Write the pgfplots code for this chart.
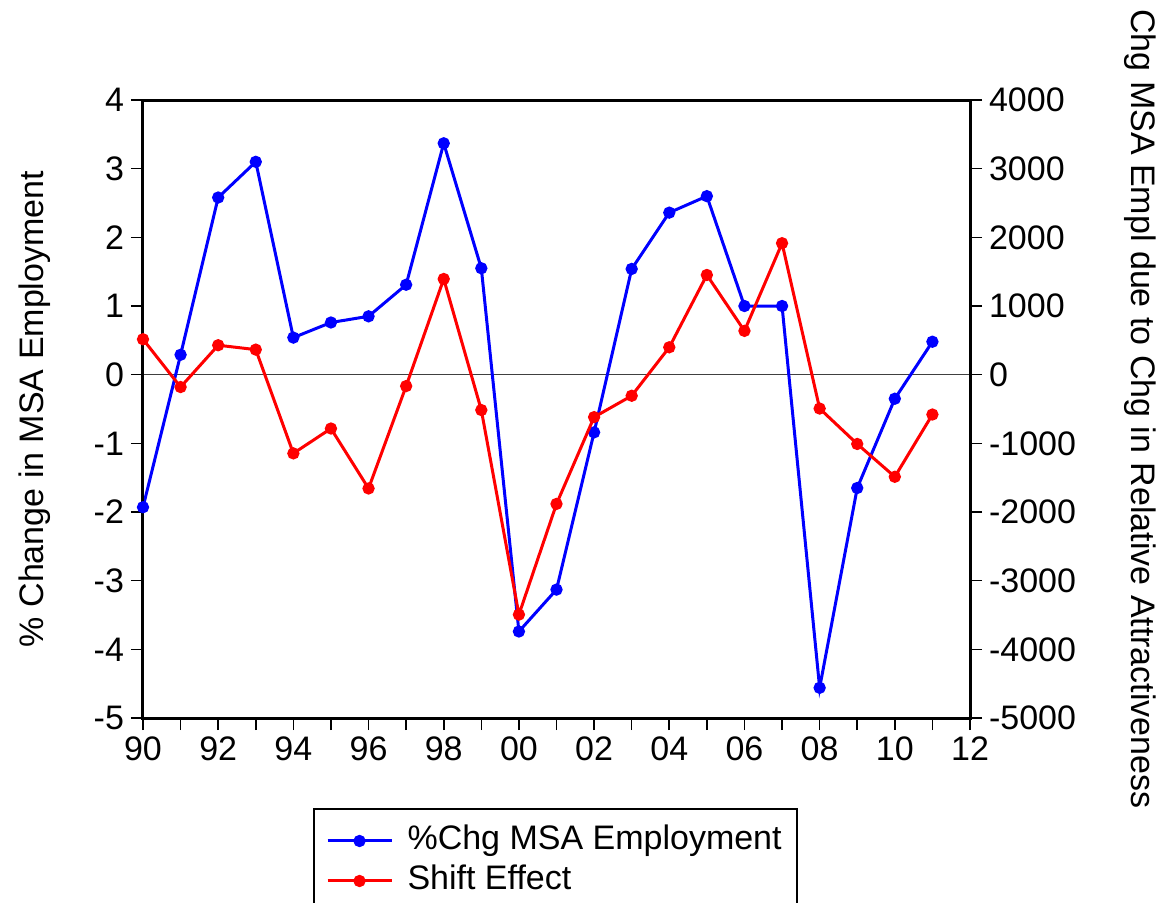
\documentclass[border=0pt]{standalone}
\usepackage{fontspec}
\setmainfont{Liberation Sans}
\usepackage{pgfplots}
\pgfplotsset{compat=1.18}
\begin{document}
\begin{tikzpicture}
\pgfplotsset{
  common/.style={
    at={(0,0)}, anchor=south west,
    scale only axis, width=413.5pt, height=309pt,
    xmin=1990, xmax=2012,
    font=\fontsize{17}{20}\selectfont,
    tick label style={font=\fontsize{17}{20}\selectfont},
    /pgf/number format/assume math mode=true,
    /pgf/number format/1000 sep={},
    scaled y ticks=false,
    clip=false,
    axis line style={line width=1.5pt},
    major tick length=6pt, minor tick length=6pt,
    every tick/.style={black, line width=0.8pt},
    tick align=outside,
  }
}
\begin{axis}[common,
  ymin=-5, ymax=4, ytick={-5,-4,...,4},
  xtick={1990,1992,...,2012},
  xticklabels={90,92,94,96,98,00,02,04,06,08,10,12},
  minor xtick={1991,1993,...,2011},
  tick pos=left,
  ylabel={\% Change in MSA Employment},
  every axis y label/.style={at={(axis description cs:-0.1306,0.5)}, anchor=center, rotate=90},
]
\addplot[black!75, line width=0.7pt, forget plot] coordinates {(1990,0) (2012,0)};
\addplot[blue, line width=1.5pt, mark=*, mark size=2.3pt] coordinates {
(1990,-1.93) (1991,0.29) (1992,2.58) (1993,3.10) (1994,0.54) (1995,0.76)
(1996,0.85) (1997,1.31) (1998,3.37) (1999,1.55) (2000,-3.74) (2001,-3.13)
(2002,-0.84) (2003,1.54) (2004,2.36) (2005,2.60) (2006,1.00) (2007,1.00)
(2008,-4.56) (2009,-1.65) (2010,-0.35) (2011,0.48)
};
\draw[black, line width=1.5pt] (rel axis cs:0,0) rectangle (rel axis cs:1,1);
\end{axis}
\begin{axis}[common,
  ymin=-5000, ymax=4000, ytick={-5000,-4000,...,4000},
  axis x line=none, axis y line*=right,
  ylabel={Chg MSA Empl due to Chg in Relative Attractiveness},
  every axis y label/.style={at={(axis description cs:1.2056,0.5)}, anchor=center, rotate=-90},
  legend style={at={(axis description cs:0.2056,-0.1456)}, anchor=north west,
    draw=black, line width=1pt, inner xsep=6pt, inner ysep=6pt,
    cells={anchor=west},
    nodes={text height=12.5pt, text depth=4pt, inner sep=1.75pt, font=\fontsize{17}{20}\selectfont},
    /tikz/every odd column/.append style={column sep=5.5pt}},
  legend image code/.code={\draw[mark repeat=2, mark phase=2, #1] plot coordinates {(0pt,0pt) (16pt,0pt) (32pt,0pt)};},
]
\addlegendimage{blue, line width=1.5pt, mark=*, mark size=2.3pt}
\addlegendentry{\%Chg MSA Employment}
\addplot[red, line width=1.5pt, mark=*, mark size=2.3pt] coordinates {
(1990,516) (1991,-180) (1992,429) (1993,365) (1994,-1146) (1995,-784)
(1996,-1657) (1997,-166) (1998,1394) (1999,-515) (2000,-3494) (2001,-1882)
(2002,-618) (2003,-307) (2004,399) (2005,1452) (2006,638) (2007,1915)
(2008,-493) (2009,-1009) (2010,-1487) (2011,-580)
};
\addlegendentry{Shift Effect}
\end{axis}
\pgfresetboundingbox
\useasboundingbox (-71.5pt,-92pt) rectangle (508pt,359pt);
\end{tikzpicture}
\end{document}
